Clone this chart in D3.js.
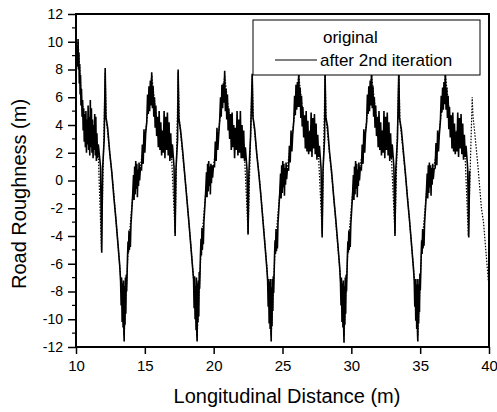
<!DOCTYPE html>
<html>
<head>
<meta charset="utf-8">
<script src="https://cdn.jsdelivr.net/npm/d3@7"></script>
<style>
  body { margin: 0; background: #fff; }
  svg { display: block; font-family: "Liberation Sans", Arial, sans-serif; }
</style>
</head>
<body>
<svg id="chart" width="497" height="412"></svg>
<script>
// axis ticks
const xTicks = [10, 15, 20, 25, 30, 35, 40]
const yTicks = [-12, -10, -8, -6, -4, -2, 0, 2, 4, 6, 8, 10, 12]
const yMinorTicks = [-11, -9, -7, -5, -3, -1, 1, 3, 5, 7, 9, 11]
const legendLabels = ['original', 'after 2nd iteration']

// "after 2nd iteration" profile [distance, roughness]
const afterIter = [
  // start, x = 10 .. 12
  [10.0, 8.6], [10.03, 9.4], [10.06, 8.2], [10.09, 9.6], [10.12, 8.4], [10.15, 10.2], [10.18, 8.0], [10.21, 9.2],
  [10.24, 7.0], [10.27, 8.4], [10.3, 6.2], [10.33, 7.6], [10.36, 5.4], [10.4, 6.6], [10.44, 4.6], [10.48, 5.8],
  [10.52, 3.6], [10.56, 5.2], [10.6, 2.8], [10.64, 4.8], [10.68, 2.4], [10.72, 5.0], [10.76, 2.0], [10.8, 4.4],
  [10.84, 2.6], [10.88, 5.4], [10.92, 2.2], [10.96, 4.6], [11.0, 1.8], [11.04, 5.8], [11.08, 2.4], [11.12, 5.2],
  [11.16, 2.0], [11.2, 4.4], [11.24, 1.6], [11.28, 4.0], [11.32, 2.2], [11.36, 4.8], [11.4, 1.8], [11.44, 4.6],
  [11.48, 1.4], [11.52, 3.4], [11.56, 1.6], [11.62, 2.6], [11.78, 1.0], [11.87, -5.2], [11.93, 0.8], [12.05, 3.0],
  // valley at 13.5
  [12.12, 8.1], [12.17, 4.6], [12.3, 3.8], [12.45, 2.0], [12.6, 0.6], [12.75, -1.2], [12.9, -2.8], [13.05, -4.6],
  [13.18, -6.2], [13.24, -7.3], [13.28, -9.0], [13.31, -7.0], [13.35, -10.2], [13.38, -7.4], [13.42, -10.6], [13.45, -7.2],
  [13.48, -11.0], [13.5, -11.6], [13.53, -7.6], [13.56, -10.4], [13.59, -7.0], [13.62, -9.6], [13.65, -6.8], [13.68, -8.0],
  [13.74, -5.6], [13.78, -4.4], [13.81, -5.2], [13.85, -3.6], [13.88, -5.0], [13.92, -3.8], [13.95, -4.8], [13.99, -3.2],
  [14.05, -2.2], [14.12, -1.0], [14.18, 0.4], [14.22, -1.4], [14.26, 1.0], [14.3, -1.0], [14.34, 1.4], [14.38, -0.6],
  [14.42, 1.2], [14.46, -1.2], [14.5, 0.8], [14.54, -0.4], [14.58, 1.3], [14.62, 0.0], [14.68, 0.9], [14.76, 0.8],
  [14.82, 2.6], [14.88, 1.2], [14.94, 3.7], [15.0, 2.0], [15.06, 3.4], [15.14, 4.2], [15.2, 6.2], [15.25, 4.8],
  [15.3, 6.8], [15.35, 5.0], [15.4, 7.2], [15.45, 5.4], [15.5, 7.8], [15.55, 5.2], [15.6, 6.8], [15.65, 4.6],
  [15.7, 6.0], [15.75, 3.8], [15.8, 5.4], [15.86, 3.2], [15.92, 4.6], [15.98, 2.4], [16.04, 5.0], [16.1, 2.2],
  [16.16, 4.2], [16.22, 1.8], [16.28, 3.6], [16.34, 2.0], [16.4, 5.0], [16.46, 1.6], [16.52, 4.6], [16.58, 2.2],
  [16.64, 4.9], [16.7, 1.8], [16.76, 4.2], [16.82, 1.4], [16.88, 3.4], [16.94, 1.6], [17.0, 2.6], [17.12, 1.0],
  [17.2, -4.0], [17.26, 0.8], [17.38, 3.0],
  // valley at 18.8
  [17.42, 8.0], [17.47, 4.5], [17.6, 3.6], [17.75, 2.1], [17.9, 0.4], [18.05, -1.3], [18.2, -3.0], [18.35, -4.8],
  [18.48, -6.4], [18.54, -7.1], [18.58, -9.2], [18.61, -6.9], [18.65, -10.0], [18.68, -7.6], [18.72, -10.8], [18.75, -7.0],
  [18.78, -11.2], [18.8, -11.6], [18.83, -7.4], [18.86, -10.2], [18.89, -7.2], [18.92, -9.8], [18.95, -6.6], [18.98, -7.8],
  [19.04, -5.4], [19.08, -4.2], [19.11, -5.4], [19.15, -3.4], [19.18, -5.0], [19.22, -3.6], [19.25, -4.6], [19.29, -3.0],
  [19.35, -2.0], [19.42, -0.8], [19.48, 0.6], [19.52, -1.2], [19.56, 1.2], [19.6, -0.8], [19.64, 1.4], [19.68, -0.4],
  [19.72, 1.0], [19.76, -1.0], [19.8, 1.2], [19.84, -0.2], [19.88, 1.1], [19.92, 0.2], [19.98, 1.0], [20.06, 1.0],
  [20.12, 2.8], [20.18, 1.4], [20.24, 3.8], [20.3, 2.2], [20.36, 3.2], [20.44, 4.4], [20.5, 6.0], [20.55, 4.6],
  [20.6, 6.9], [20.65, 5.2], [20.7, 7.0], [20.75, 5.6], [20.8, 7.9], [20.85, 5.0], [20.9, 6.6], [20.95, 4.4],
  [21.0, 6.2], [21.05, 3.6], [21.1, 5.2], [21.16, 3.0], [21.22, 4.8], [21.28, 2.2], [21.34, 4.9], [21.4, 2.4],
  [21.46, 4.0], [21.52, 1.6], [21.58, 3.8], [21.64, 2.2], [21.7, 5.0], [21.76, 1.8], [21.82, 4.4], [21.88, 2.0],
  [21.94, 5.0], [22.0, 1.6], [22.06, 4.0], [22.12, 1.6], [22.18, 3.6], [22.24, 1.4], [22.3, 2.4], [22.42, 0.8],
  [22.5, -3.9], [22.56, 0.6], [22.68, 3.2],
  // valley at 24.2
  [22.8, 7.7], [22.85, 4.6], [22.98, 3.7], [23.13, 1.9], [23.28, 0.5], [23.43, -1.1], [23.58, -2.9], [23.73, -4.7],
  [23.86, -6.3], [23.92, -7.2], [23.96, -9.1], [23.99, -7.1], [24.03, -10.3], [24.06, -7.3], [24.1, -10.7], [24.13, -7.1],
  [24.16, -10.9], [24.18, -11.6], [24.21, -7.7], [24.24, -10.5], [24.27, -7.1], [24.3, -9.4], [24.33, -6.9], [24.36, -8.1],
  [24.42, -5.5], [24.46, -4.3], [24.49, -5.3], [24.53, -3.5], [24.56, -5.1], [24.6, -3.7], [24.63, -4.9], [24.67, -3.1],
  [24.73, -2.1], [24.8, -0.9], [24.86, 0.5], [24.9, -1.3], [24.94, 1.1], [24.98, -0.9], [25.02, 1.4], [25.06, -0.5],
  [25.1, 1.2], [25.14, -1.1], [25.18, 0.9], [25.22, -0.3], [25.26, 1.3], [25.3, 0.1], [25.36, 0.9], [25.44, 0.7],
  [25.5, 2.5], [25.56, 1.3], [25.62, 3.6], [25.68, 2.1], [25.74, 3.3], [25.82, 4.3], [25.88, 6.1], [25.93, 4.7],
  [25.98, 6.9], [26.03, 5.1], [26.08, 7.1], [26.13, 5.3], [26.18, 7.8], [26.23, 5.3], [26.28, 6.7], [26.33, 4.5],
  [26.38, 6.1], [26.43, 3.9], [26.48, 5.3], [26.54, 3.1], [26.6, 4.7], [26.66, 2.3], [26.72, 5.0], [26.78, 2.1],
  [26.84, 4.3], [26.9, 1.9], [26.96, 3.5], [27.02, 2.1], [27.08, 4.9], [27.14, 1.7], [27.2, 4.5], [27.26, 2.3],
  [27.32, 4.8], [27.38, 1.9], [27.44, 4.1], [27.5, 1.5], [27.56, 3.3], [27.62, 1.7], [27.68, 2.5], [27.8, 0.9],
  [27.88, -4.1], [27.94, 0.7], [28.06, 3.1],
  // valley at 29.5
  [28.09, 8.0], [28.14, 4.6], [28.27, 3.9], [28.42, 2.0], [28.57, 0.6], [28.72, -1.2], [28.87, -2.8], [29.02, -4.6],
  [29.15, -6.2], [29.21, -7.3], [29.25, -9.0], [29.28, -7.0], [29.32, -10.2], [29.35, -7.4], [29.39, -10.6], [29.42, -7.2],
  [29.45, -11.0], [29.47, -11.7], [29.5, -7.6], [29.53, -10.4], [29.56, -7.0], [29.59, -9.6], [29.62, -6.8], [29.65, -8.0],
  [29.71, -5.6], [29.75, -4.4], [29.78, -5.2], [29.82, -3.6], [29.85, -5.0], [29.89, -3.8], [29.92, -4.8], [29.96, -3.2],
  [30.02, -2.2], [30.09, -1.0], [30.15, 0.4], [30.19, -1.4], [30.23, 1.0], [30.27, -1.0], [30.31, 1.4], [30.35, -0.6],
  [30.39, 1.2], [30.43, -1.2], [30.47, 0.8], [30.51, -0.4], [30.55, 1.3], [30.59, 0.0], [30.65, 0.9], [30.73, 0.8],
  [30.79, 2.6], [30.85, 1.2], [30.91, 3.7], [30.97, 2.0], [31.03, 3.4], [31.11, 4.2], [31.17, 6.2], [31.22, 4.8],
  [31.27, 6.8], [31.32, 5.0], [31.37, 7.2], [31.42, 5.4], [31.47, 7.8], [31.52, 5.2], [31.57, 6.8], [31.62, 4.6],
  [31.67, 6.0], [31.72, 3.8], [31.77, 5.4], [31.83, 3.2], [31.89, 4.6], [31.95, 2.4], [32.01, 5.0], [32.07, 2.2],
  [32.13, 4.2], [32.19, 1.8], [32.25, 3.6], [32.31, 2.0], [32.37, 5.0], [32.43, 1.6], [32.49, 4.6], [32.55, 2.2],
  [32.61, 4.9], [32.67, 1.8], [32.73, 4.2], [32.79, 1.4], [32.85, 3.4], [32.91, 1.6], [32.97, 2.6], [33.09, 1.0],
  [33.17, -4.0], [33.23, 0.8], [33.35, 3.0],
  // valley at 34.8
  [33.45, 8.0], [33.5, 4.5], [33.63, 3.7], [33.78, 2.1], [33.93, 0.5], [34.08, -1.3], [34.23, -2.9], [34.38, -4.7],
  [34.51, -6.3], [34.57, -7.2], [34.61, -9.1], [34.64, -7.1], [34.68, -10.1], [34.71, -7.5], [34.75, -10.7], [34.78, -7.1],
  [34.81, -11.1], [34.83, -11.6], [34.86, -7.5], [34.89, -10.3], [34.92, -7.1], [34.95, -9.5], [34.98, -6.7], [35.01, -7.9],
  [35.07, -5.5], [35.11, -4.3], [35.14, -5.3], [35.18, -3.5], [35.21, -4.9], [35.25, -3.7], [35.28, -4.7], [35.32, -3.1],
  [35.38, -2.1], [35.45, -0.9], [35.51, 0.5], [35.55, -1.3], [35.59, 1.1], [35.63, -0.9], [35.67, 1.3], [35.71, -0.5],
  [35.75, 1.1], [35.79, -1.1], [35.83, 0.9], [35.87, -0.3], [35.91, 1.2], [35.95, 0.1], [36.01, 0.8], [36.09, 0.9],
  [36.15, 2.7], [36.21, 1.1], [36.27, 3.6], [36.33, 2.1], [36.39, 3.3], [36.47, 4.3], [36.53, 6.1], [36.58, 4.9],
  [36.63, 6.7], [36.68, 5.1], [36.73, 7.1], [36.78, 5.5], [36.83, 7.9], [36.88, 5.1], [36.93, 6.7], [36.98, 4.5],
  [37.03, 6.1], [37.08, 3.7], [37.13, 5.3], [37.19, 3.1], [37.25, 4.7], [37.31, 2.3], [37.37, 4.9], [37.43, 2.1],
  [37.49, 4.1], [37.55, 1.9], [37.61, 3.5], [37.67, 2.1], [37.73, 4.9], [37.79, 1.7], [37.85, 4.5], [37.91, 2.3],
  [37.97, 4.8], [38.03, 1.9], [38.09, 4.1], [38.15, 1.5], [38.21, 3.3], [38.27, 1.7], [38.33, 2.5], [38.45, 0.9],
  [38.53, -4.1], [38.59, 0.7]
]

// "original" profile, dotted, mostly hidden under the other one
const original = [
  [10.0, 8.8], [10.15, 10.0], [10.4, 6.0], [10.8, 3.4], [11.2, 3.6], [11.6, 2.4], [11.85, -5.0], [12.12, 7.8],
  [12.2, 4.4], [12.7, -0.4], [13.2, -6.4], [13.5, -11.2], [13.8, -4.8], [14.2, -0.2], [14.6, 0.6], [15.0, 3.0],
  [15.5, 7.6], [15.9, 4.0], [16.4, 3.4], [16.9, 2.6], [17.2, -3.8], [17.42, 7.8],
  [17.5, 4.4], [18.0, -0.6], [18.5, -6.6], [18.8, -11.2], [19.1, -4.6], [19.5, 0.0], [19.9, 0.6], [20.3, 3.0],
  [20.8, 7.6], [21.2, 4.0], [21.7, 3.4], [22.2, 2.6], [22.5, -3.8], [22.8, 7.6],
  [22.88, 4.4], [23.38, -0.4], [23.88, -6.4], [24.18, -11.2], [24.48, -4.6], [24.88, 0.0], [25.28, 0.6], [25.68, 3.0],
  [26.18, 7.6], [26.58, 4.0], [27.08, 3.4], [27.58, 2.6], [27.88, -3.8], [28.09, 7.8],
  [28.17, 4.4], [28.67, -0.6], [29.17, -6.5], [29.47, -11.2], [29.77, -4.6], [30.17, 0.0], [30.57, 0.6], [30.97, 3.0],
  [31.47, 7.6], [31.87, 4.0], [32.37, 3.4], [32.87, 2.6], [33.17, -3.8], [33.45, 7.8],
  [33.53, 4.4], [34.03, -0.6], [34.53, -6.5], [34.83, -11.2], [35.13, -4.6], [35.53, 0.0], [35.93, 0.6], [36.33, 3.0],
  [36.83, 7.6], [37.23, 4.0], [37.73, 3.4], [38.23, 2.6], [38.5, -4.0],
  [38.78, 6.0], [38.84, 4.6], [38.95, 3.6], [39.2, 1.0], [39.45, -2.0], [39.6, -3.0], [39.8, -5.4], [39.95, -7.2]
]

const width = 497
const height = 412
const margin = { top: 14, right: 8, bottom: 65, left: 76 }
const plotW = width - margin.left - margin.right
const plotH = height - margin.top - margin.bottom

const svg = d3.select('#chart')
const g = svg.append('g').attr('transform', `translate(${margin.left},${margin.top})`)

const xScale = d3.scaleLinear().domain([10, 40]).range([0, plotW])
const yScale = d3.scaleLinear().domain([-12, 12]).range([plotH, 0])

g.append('clipPath').attr('id', 'clip')
  .append('rect').attr('width', plotW).attr('height', plotH)

const line = d3.line()
  .x(d => xScale(d[0]))
  .y(d => yScale(d[1]))

const series = g.append('g').attr('clip-path', 'url(#clip)')

series.append('path')
  .datum(original)
  .attr('d', line)
  .attr('fill', 'none')
  .attr('stroke', '#000')
  .attr('stroke-width', 1.2)
  .attr('stroke-dasharray', '1.5,1.5')

series.append('path')
  .datum(afterIter)
  .attr('d', line)
  .attr('fill', 'none')
  .attr('stroke', '#000')
  .attr('stroke-width', 1.6)

// axes
const xAxis = d3.axisBottom(xScale)
  .tickValues(xTicks)
  .tickSize(7)
  .tickPadding(6)
  .tickFormat(d => String(d))

const yAxis = d3.axisLeft(yScale)
  .tickValues(yTicks)
  .tickSize(8)
  .tickPadding(5)
  .tickFormat(d => String(d))

const xg = g.append('g')
  .attr('transform', `translate(0,${plotH})`)
  .call(xAxis)
xg.select('.domain').remove()
xg.selectAll('line').attr('stroke', '#000').attr('stroke-width', 1.5)
xg.selectAll('text').style('font-size', '15px').attr('fill', '#000')

const yg = g.append('g').call(yAxis)
yg.select('.domain').remove()
yg.selectAll('line').attr('stroke', '#000').attr('stroke-width', 1.5)
yg.selectAll('text').style('font-size', '14px').attr('fill', '#000')

g.append('g')
  .selectAll('line')
  .data(yMinorTicks)
  .join('line')
  .attr('x1', -4)
  .attr('x2', 0)
  .attr('y1', d => yScale(d))
  .attr('y2', d => yScale(d))
  .attr('stroke', '#000')
  .attr('stroke-width', 1.2)

// frame
g.append('rect')
  .attr('width', plotW)
  .attr('height', plotH)
  .attr('fill', 'none')
  .attr('stroke', '#000')
  .attr('stroke-width', 2)

// legend
const legend = g.append('g').attr('transform', `translate(${253 - margin.left},${20 - margin.top})`)
legend.append('rect')
  .attr('width', 227)
  .attr('height', 55)
  .attr('fill', '#fff')
  .attr('stroke', '#000')
  .attr('stroke-width', 1)

legend.append('text')
  .attr('x', 70)
  .attr('y', 23)
  .style('font-size', '17px')
  .text(legendLabels[0])

legend.append('line')
  .attr('x1', 22)
  .attr('x2', 64)
  .attr('y1', 40)
  .attr('y2', 40)
  .attr('stroke', '#000')
  .attr('stroke-width', 1)

legend.append('text')
  .attr('x', 67)
  .attr('y', 46)
  .style('font-size', '17px')
  .text(legendLabels[1])

// axis titles
svg.append('text')
  .attr('x', 287)
  .attr('y', 403)
  .attr('text-anchor', 'middle')
  .style('font-size', '20px')
  .text('Longitudinal Distance (m)')

svg.append('text')
  .attr('transform', 'translate(26,194) rotate(-90)')
  .attr('text-anchor', 'middle')
  .style('font-size', '20px')
  .text('Road Roughness (m)')
</script>
</body>
</html>
